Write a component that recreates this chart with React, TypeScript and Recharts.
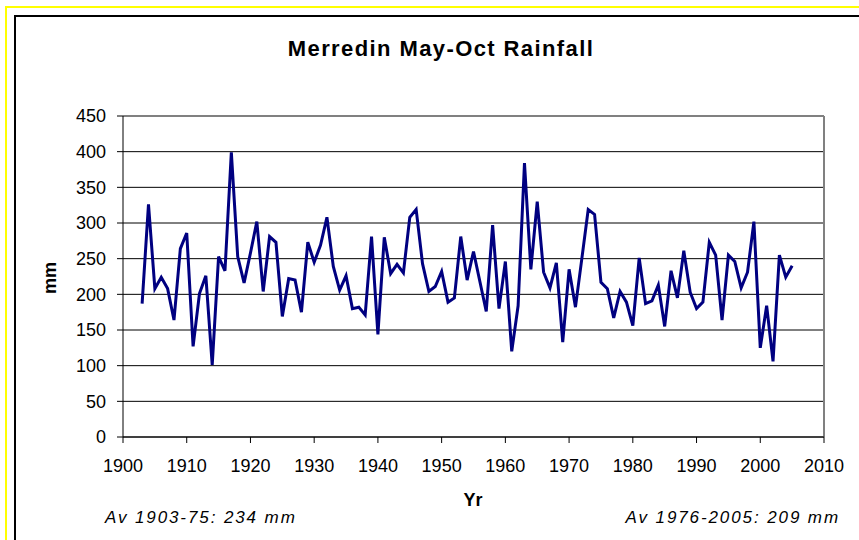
import React from "react";
import { LineChart, Line, XAxis, YAxis, CartesianGrid, ReferenceLine } from "recharts";

// May-Oct rainfall at Merredin (mm)
const years: number[] = Array.from({ length: 103 }, (_, i) => 1903 + i);
const rainfall: number[] = [
  187, 326, 208, 224, 208, 164, 264, 286, 127, 201, // 1903-1912
  226, 101, 253, 233, 399, 253, 216, 258, 302, 204, // 1913-1922
  281, 273, 169, 222, 220, 175, 273, 245, 269, 308, // 1923-1932
  239, 206, 226, 180, 182, 171, 281, 144, 280, 229, // 1933-1942
  242, 230, 308, 319, 243, 204, 211, 232, 189, 195, // 1943-1952
  281, 220, 260, 218, 176, 297, 180, 246, 120, 184, // 1953-1962
  384, 235, 330, 231, 209, 244, 133, 235, 182, 250, // 1963-1972
  319, 312, 217, 208, 167, 204, 189, 156, 251, 187, // 1973-1982
  191, 213, 155, 233, 195, 261, 203, 180, 189, 273, // 1983-1992
  255, 164, 255, 246, 209, 231, 302, 125, 184, 106, // 1993-2002
  255, 224, 240, // 2003-2005
];
const xTicks = [1900, 1910, 1920, 1930, 1940, 1950, 1960, 1970, 1980, 1990, 2000, 2010];
const yTicks = [0, 50, 100, 150, 200, 250, 300, 350, 400, 450];

const data = years.map((year, i) => ({ year, rain: rainfall[i] }));

const FONT = "'Liberation Sans', Arial, sans-serif";
const tickStyle = { fontSize: 18, fill: "#000", fontFamily: FONT };

export default function App() {
  return (
    <div
      style={{
        position: "absolute",
        left: 0,
        top: 0,
        width: 859,
        height: 540,
        overflow: "hidden",
        background: "#fff",
        fontFamily: FONT,
      }}
    >
      {/* outer frames, clipped at right and bottom like the screenshot */}
      <div style={{ position: "absolute", left: 5, top: 6, width: 900, height: 600, border: "2px solid #ffff00" }} />
      <div style={{ position: "absolute", left: 14, top: 15, width: 900, height: 600, border: "2px solid #000" }} />

      <div
        style={{
          position: "absolute",
          left: 0,
          width: 882,
          top: 36,
          textAlign: "center",
          fontSize: 22,
          fontWeight: 700,
          letterSpacing: 1.4,
        }}
      >
        Merredin May-Oct Rainfall
      </div>

      <div style={{ position: "absolute", left: 0, top: 0 }}>
        <LineChart width={859} height={540} data={data} margin={{ top: 116, right: 35, bottom: 73, left: 63 }}>
          <CartesianGrid horizontal vertical={false} stroke="#000" />
          <ReferenceLine y={450} stroke="#808080" strokeWidth={2} />
          <ReferenceLine x={2010} stroke="#808080" strokeWidth={2} />
          <XAxis
            dataKey="year"
            type="number"
            domain={[1900, 2010]}
            ticks={xTicks}
            interval={0}
            height={30}
            tick={tickStyle}
            tickSize={6}
            tickMargin={16}
            axisLine={{ stroke: "#000" }}
            tickLine={{ stroke: "#000" }}
          />
          <YAxis
            type="number"
            domain={[0, 450]}
            ticks={yTicks}
            interval={0}
            width={60}
            tick={tickStyle}
            tickSize={6}
            tickMargin={11}
            axisLine={{ stroke: "#000" }}
            tickLine={{ stroke: "#000" }}
          />
          <Line
            dataKey="rain"
            type="linear"
            stroke="#000080"
            strokeWidth={3}
            dot={false}
            isAnimationActive={false}
          />
        </LineChart>
      </div>

      <div
        style={{
          position: "absolute",
          left: 50,
          top: 278,
          transform: "translate(-50%, -50%) rotate(-90deg)",
          fontSize: 18,
          fontWeight: 700,
        }}
      >
        mm
      </div>
      <div style={{ position: "absolute", left: 473, top: 490, transform: "translateX(-50%)", fontSize: 18, fontWeight: 700 }}>
        Yr
      </div>
      <div style={{ position: "absolute", left: 105, top: 508, fontSize: 17, fontStyle: "italic", letterSpacing: 1.9 }}>
        Av 1903-75: 234 mm
      </div>
      <div style={{ position: "absolute", right: 19, top: 508, fontSize: 17, fontStyle: "italic", letterSpacing: 1.9 }}>
        Av 1976-2005: 209 mm
      </div>
    </div>
  );
}
